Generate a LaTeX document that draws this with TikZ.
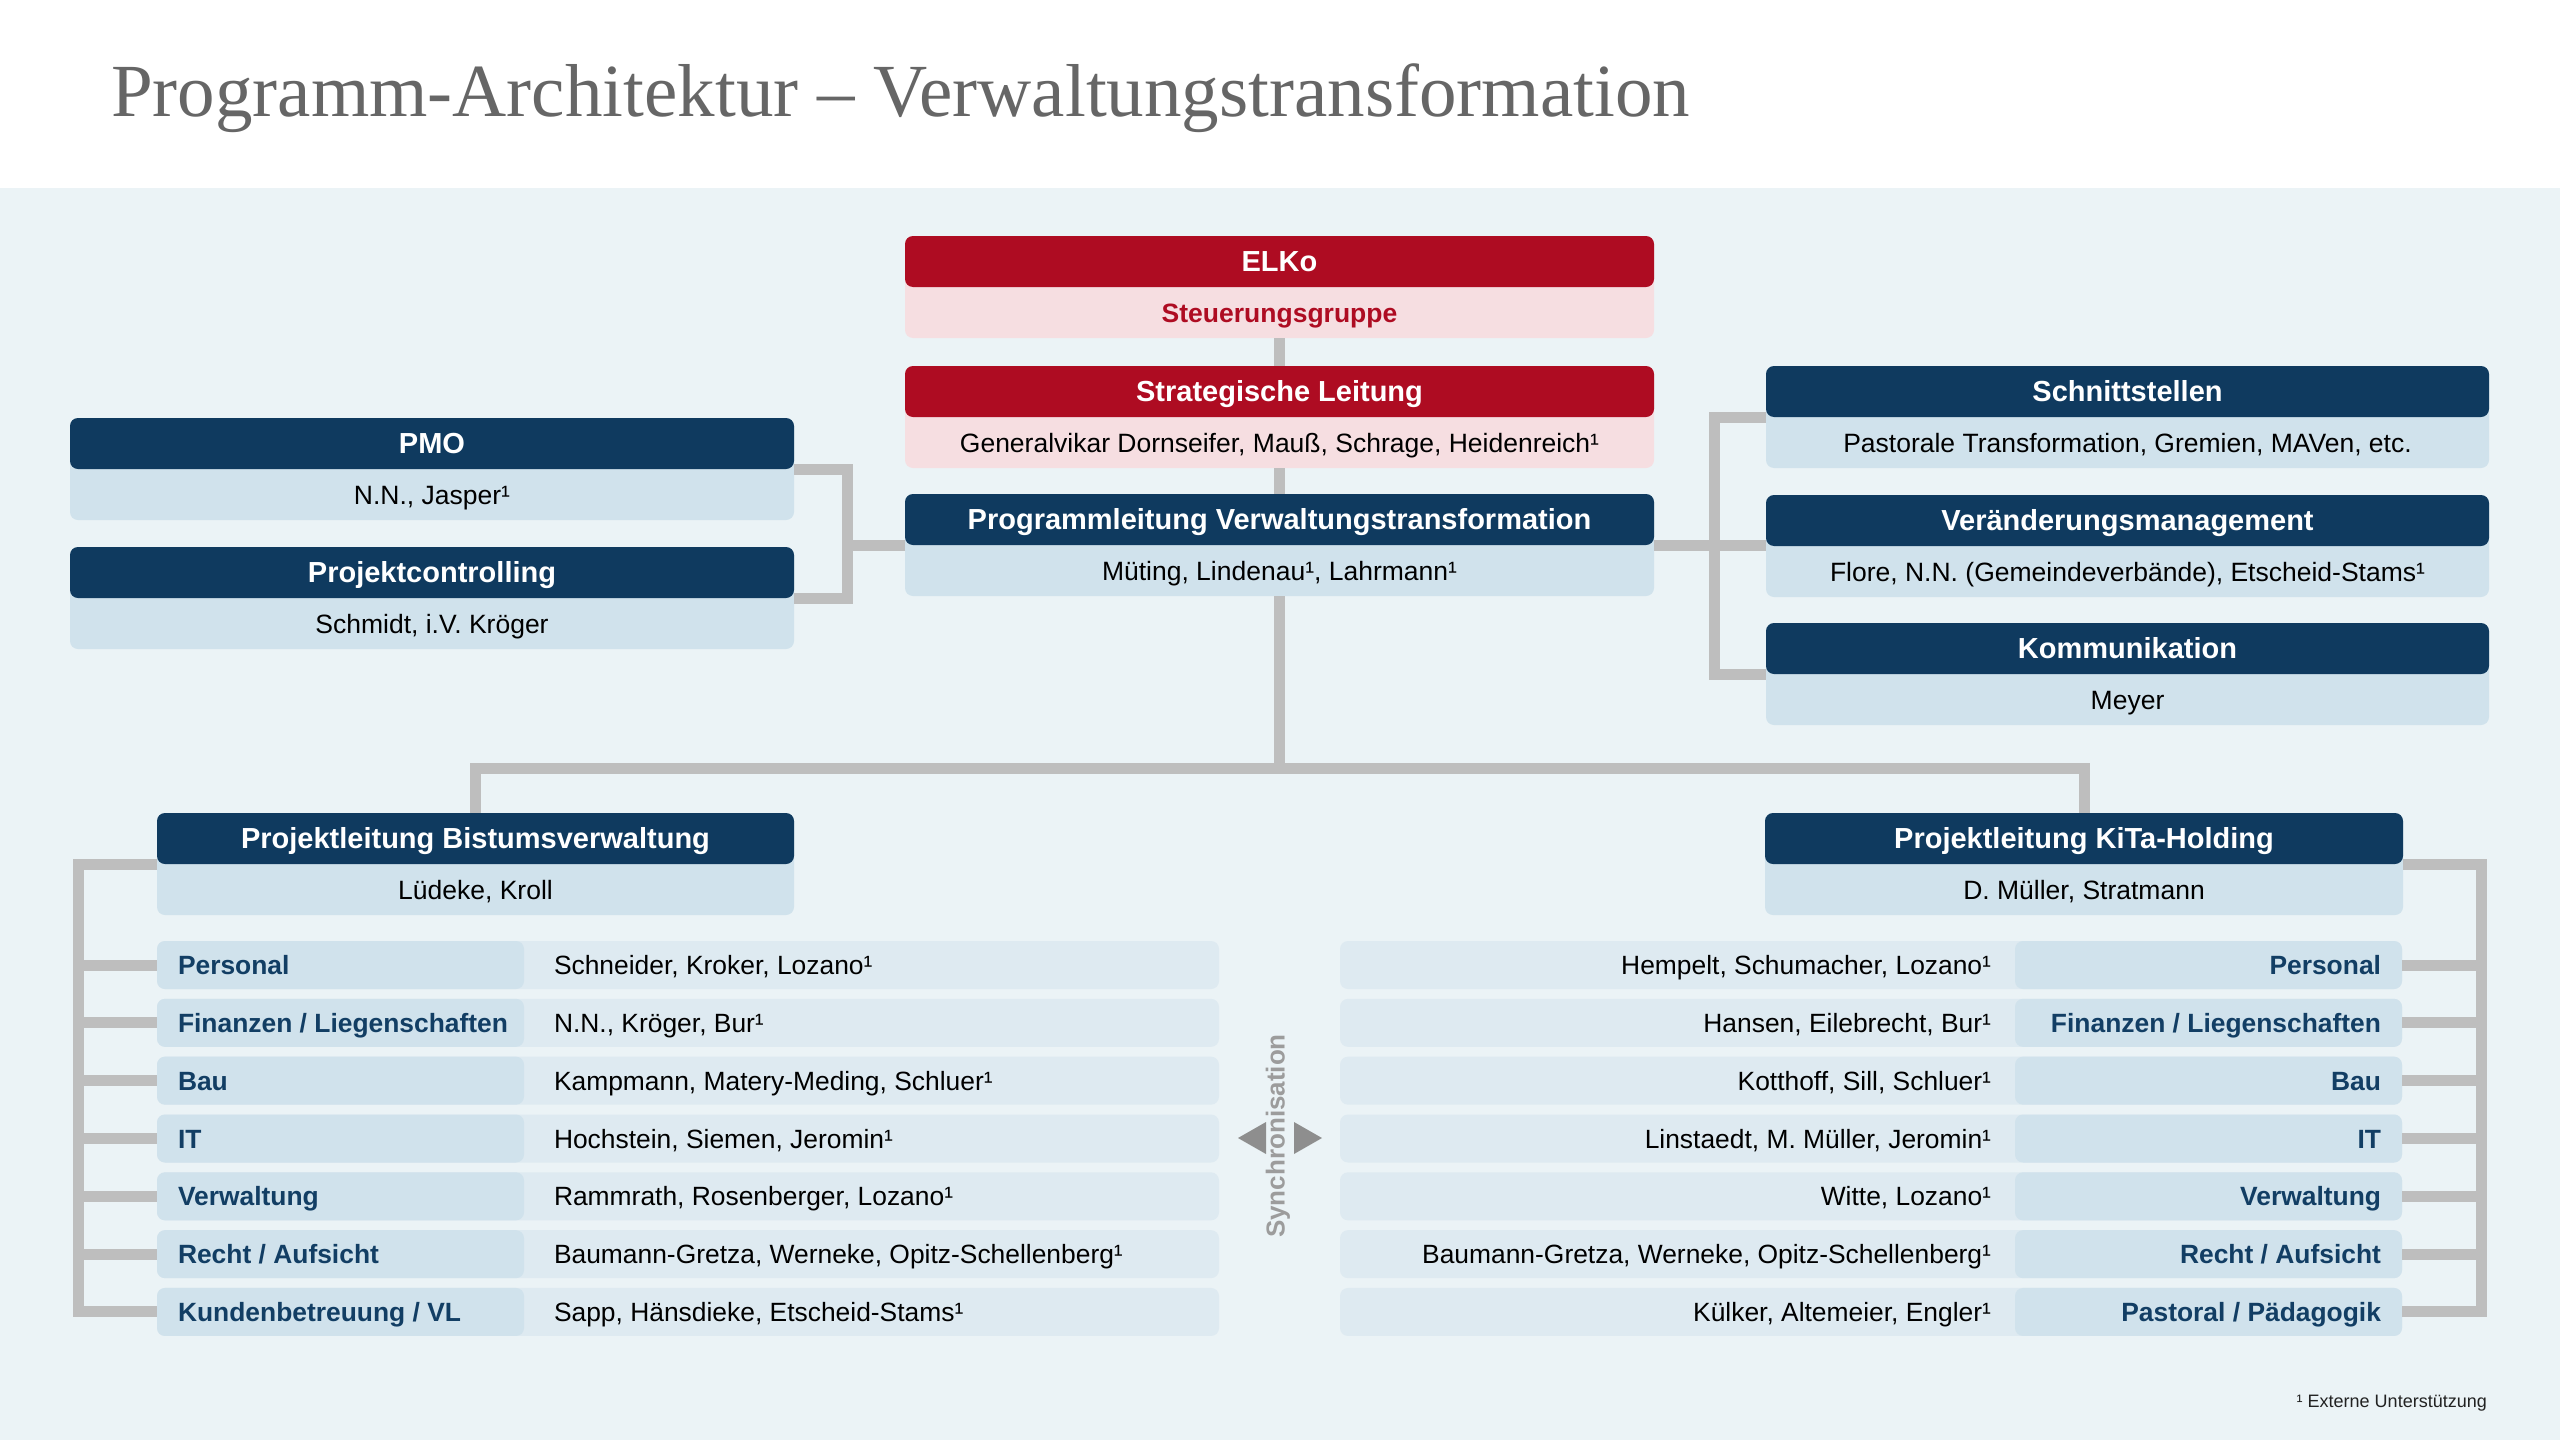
\documentclass[tikz,border=0pt]{standalone}
\usepackage{fontspec}
\setmainfont{Liberation Sans}
\newfontfamily\titlefont{Liberation Serif}
\usetikzlibrary{calc}
\definecolor{navy}{HTML}{0F3A5F}
\definecolor{elkored}{HTML}{AE0C22}
\definecolor{pinkbody}{HTML}{F6DEE1}
\definecolor{bluebody}{HTML}{D0E2EC}
\definecolor{rowlight}{HTML}{DEEAF1}
\definecolor{bgcol}{HTML}{EBF3F6}
\definecolor{conn}{HTML}{BEBEBE}
\definecolor{titlegray}{HTML}{666666}
\definecolor{labelnavy}{HTML}{123E64}
\definecolor{syncgray}{HTML}{9C9C9C}
\definecolor{arrowgray}{HTML}{8E8E8E}
\definecolor{fncol}{HTML}{222222}

\tikzset{
  boxbg/.style={rectangle, rounded corners=8pt, inner sep=0pt, outer sep=0pt, anchor=north west, minimum height=102pt},
  hdrbox/.style={rectangle, rounded corners=8pt, inner sep=0pt, outer sep=0pt, anchor=north west, minimum height=51pt, text=white, font=\fontsize{29}{32}\selectfont\bfseries, text height=20.8pt, text depth=0pt},
  bodytxt/.style={inner sep=0pt, outer sep=0pt, font=\fontsize{26.5}{30}\selectfont, text height=19pt, text depth=0pt},
  rowbg/.style={rectangle, rounded corners=8pt, inner sep=0pt, outer sep=0pt, anchor=north west, minimum height=48pt, fill=rowlight},
  rowlab/.style={rectangle, rounded corners=8pt, inner sep=0pt, outer sep=0pt, anchor=north west, minimum height=48pt, fill=bluebody},
  rowlabtxt/.style={inner sep=0pt, outer sep=0pt, text=labelnavy, font=\fontsize{26.4}{30}\selectfont\bfseries, text height=19pt, text depth=0pt},
  rowtxt/.style={inner sep=0pt, outer sep=0pt, font=\fontsize{26.4}{30}\selectfont, text height=19pt, text depth=0pt},
  conline/.style={draw=conn, line width=11pt},
}

\newcommand{\obox}[8]{%
  \node[boxbg, fill=#6, minimum width={#3pt-#2pt}] (#1) at (#2,#4) {};
  \node[hdrbox, fill=#5, minimum width={#3pt-#2pt}] (#1H) at (#2,#4) {#7};
  \node[bodytxt] (#1T) at ([yshift=-25.5pt]#1H.south) {#8};
}
\newcommand{\brow}[3]{%
  \node[rowbg, minimum width=1062pt] (bn#1) at (157,{941+(#1-1)*57.83}) {};
  \node[rowlab, minimum width=367pt] (bl#1) at (157,{941+(#1-1)*57.83}) {};
  \node[rowlabtxt, anchor=west] (blt#1) at (178,{965+(#1-1)*57.83}) {#2};
  \node[rowtxt, anchor=west] (bt#1) at (554,{965+(#1-1)*57.83}) {#3};
}
\newcommand{\krow}[3]{%
  \node[rowbg, minimum width=1062pt] (kn#1) at (1340,{941+(#1-1)*57.83}) {};
  \node[rowlab, minimum width=387pt] (kl#1) at (2015,{941+(#1-1)*57.83}) {};
  \node[rowlabtxt, anchor=east] (klt#1) at (2381,{965+(#1-1)*57.83}) {#2};
  \node[rowtxt, anchor=east] (kt#1) at (1991,{965+(#1-1)*57.83}) {#3};
}

\begin{document}
\begin{tikzpicture}[x=1pt, y=-1pt]
\useasboundingbox (0,0) rectangle (2560,1440);
\fill[white] (0,0) rectangle (2560,188);
\fill[bgcol] (0,188) rectangle (2560,1440);

\node[anchor=base west, inner sep=0pt, font=\titlefont\fontsize{75}{80}\selectfont, text=titlegray] (title) at (111,116) {Programm-Architektur – Verwaltungstransformation};

% top boxes
\obox{elko}{905}{1654}{236}{elkored}{pinkbody}{ELKo}{\bfseries\color{elkored}Steuerungsgruppe}
\obox{strat}{905}{1654}{366}{elkored}{pinkbody}{Strategische Leitung}{Generalvikar Dornseifer, Mauß, Schrage, Heidenreich¹}
\obox{pl}{905}{1654}{494}{navy}{bluebody}{Programmleitung Verwaltungstransformation}{Müting, Lindenau¹, Lahrmann¹}
\obox{pmo}{70}{794}{418}{navy}{bluebody}{PMO}{N.N., Jasper¹}
\obox{pc}{70}{794}{547}{navy}{bluebody}{Projektcontrolling}{Schmidt, i.V. Kröger}
\obox{sch}{1766}{2489}{366}{navy}{bluebody}{Schnittstellen}{Pastorale Transformation, Gremien, MAVen, etc.}
\obox{ver}{1766}{2489}{495}{navy}{bluebody}{Veränderungsmanagement}{Flore, N.N. (Gemeindeverbände), Etscheid-Stams¹}
\obox{kom}{1766}{2489}{623}{navy}{bluebody}{Kommunikation}{Meyer}
\obox{bist}{157}{794}{813}{navy}{bluebody}{Projektleitung Bistumsverwaltung}{Lüdeke, Kroll}
\obox{kita}{1765}{2403}{813}{navy}{bluebody}{Projektleitung KiTa-Holding}{D. Müller, Stratmann}

% rows left
\brow{1}{Personal}{Schneider, Kroker, Lozano¹}
\brow{2}{Finanzen / Liegenschaften}{N.N., Kröger, Bur¹}
\brow{3}{Bau}{Kampmann, Matery-Meding, Schluer¹}
\brow{4}{IT}{Hochstein, Siemen, Jeromin¹}
\brow{5}{Verwaltung}{Rammrath, Rosenberger, Lozano¹}
\brow{6}{Recht / Aufsicht}{Baumann-Gretza, Werneke, Opitz-Schellenberg¹}
\brow{7}{Kundenbetreuung / VL}{Sapp, Hänsdieke, Etscheid-Stams¹}
% rows right
\krow{1}{Personal}{Hempelt, Schumacher, Lozano¹}
\krow{2}{Finanzen / Liegenschaften}{Hansen, Eilebrecht, Bur¹}
\krow{3}{Bau}{Kotthoff, Sill, Schluer¹}
\krow{4}{IT}{Linstaedt, M. Müller, Jeromin¹}
\krow{5}{Verwaltung}{Witte, Lozano¹}
\krow{6}{Recht / Aufsicht}{Baumann-Gretza, Werneke, Opitz-Schellenberg¹}
\krow{7}{Pastoral / Pädagogik}{Külker, Altemeier, Engler¹}

% coordinates
\coordinate (lbr) at (847,0);
\coordinate (rbr) at (1714,0);
\coordinate (bbr) at (78,0);
\coordinate (kbr) at (2481,0);
\coordinate (bus) at (0,768);

% connectors
\draw[conline] (elko.south) -- (strat.north);
\draw[conline] (strat.south) -- (pl.north);
\draw[conline] (pl.south) -- (pl.south |- bus);
\draw[conline] (bist.north) -- (bist.north |- bus) -- (kita.north |- bus) -- (kita.north);
\draw[conline] (pmoH.south east) -- (pmoH.south east -| lbr) -- (pcH.south east -| lbr) -- (pcH.south east);
\draw[conline] (plH.south west) -- (plH.south west -| lbr);
\draw[conline] (schH.south west) -- (schH.south west -| rbr) -- (komH.south west -| rbr) -- (komH.south west);
\draw[conline] (plH.south east) -- (plH.south east -| verH.west);
\draw[conline] (bistH.south west) -- (bistH.south west -| bbr) -- (bl7.west -| bbr) -- (bl7.west);
\draw[conline] (kitaH.south east) -- (kitaH.south east -| kbr) -- (kl7.east -| kbr) -- (kl7.east);
\foreach \i in {1,...,6}{
  \draw[conline] (bl\i.west -| bbr) -- (bl\i.west);
  \draw[conline] (kl\i.east -| kbr) -- (kl\i.east);
}

% synchronisation
\node[rotate=90, inner sep=0pt, font=\fontsize{26}{30}\selectfont\bfseries, text=syncgray] (sync) at (1278,1136) {Synchronisation};
\fill[arrowgray] (1238,1138) -- (1266,1122) -- (1266,1154) -- cycle;
\fill[arrowgray] (1322,1138) -- (1294,1122) -- (1294,1154) -- cycle;

% footnote
\node[anchor=base east, inner sep=0pt, font=\fontsize{18}{20}\selectfont, text=fncol] (fn) at (2487,1407) {¹ Externe Unterstützung};
\end{tikzpicture}
\end{document}
